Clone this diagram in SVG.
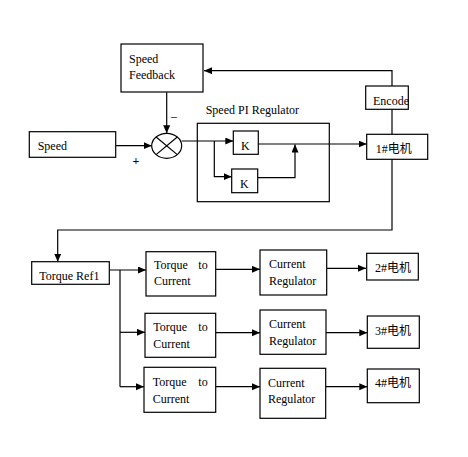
<svg xmlns="http://www.w3.org/2000/svg" width="468" height="457" viewBox="0 0 468 457">
<style>
.b{fill:#fff;stroke:#000;stroke-width:1.2}
.t{font-family:"Liberation Serif","DejaVu Serif",serif;font-size:12px;fill:#000}
.m{font-family:"Liberation Serif","Noto Sans CJK SC",serif;font-size:12px;fill:#000}
.c{fill:none;stroke:#000;stroke-width:1.2}
</style>
<defs>
<marker id="a" markerUnits="userSpaceOnUse" markerWidth="9" markerHeight="8" refX="8" refY="3.5" orient="auto">
<path d="M0,0 L8,3.5 L0,7 z" fill="#000"/>
</marker>
</defs>
<rect width="468" height="457" fill="#fff"/>
<g id="connectors" class="c">
<path d="M392,86 V70.7 H204" marker-end="url(#a)"/>
<path d="M392,109 V134.3"/>
<path d="M392,159.3 V230 H57.7 V261.7" marker-end="url(#a)"/>
<path d="M166.7,92.3 V133.3" marker-end="url(#a)"/>
<path d="M115.7,145.7 H151.7" marker-end="url(#a)"/>
<path d="M181.7,141 H233.3" marker-end="url(#a)"/>
<path d="M214.3,141 V176.7 H231.7" marker-end="url(#a)"/>
<path d="M258.3,144 H366.7" marker-end="url(#a)"/>
<path d="M257.7,177.7 H295 V144.5" marker-end="url(#a)"/>
<path d="M109.3,270 H146" marker-end="url(#a)"/>
<path d="M120,270 V386.7"/>
<path d="M120,332.3 H145" marker-end="url(#a)"/>
<path d="M120,386.7 H144" marker-end="url(#a)"/>
<path d="M215.7,269.3 H260" marker-end="url(#a)"/>
<path d="M215.7,332.7 H260" marker-end="url(#a)"/>
<path d="M215.7,386.7 H260" marker-end="url(#a)"/>
<path d="M326.7,268.3 H366" marker-end="url(#a)"/>
<path d="M326,332.7 H367.3" marker-end="url(#a)"/>
<path d="M325.7,386.7 H367.3" marker-end="url(#a)"/>
</g>
<g id="speed-feedback">
<rect class="b" x="121" y="44" width="82" height="48"/>
<text class="t" x="129" y="62.5">Speed</text>
<text class="t" x="129" y="79">Feedback</text>
</g>
<g id="speed">
<rect class="b" x="29.3" y="131.7" width="86.4" height="25.6"/>
<text class="t" x="37.7" y="150">Speed</text>
</g>
<g id="sum">
<ellipse class="b" cx="166.7" cy="145.8" rx="15" ry="12.5"/>
<path class="c" d="M156.1,137 L177.3,154.6 M177.3,137 L156.1,154.6"/>
<text class="t" x="171" y="120">–</text>
<text class="t" x="132.5" y="165" font-size="11" font-weight="bold">+</text>
</g>
<g id="speed-pi-regulator">
<rect class="c" x="197.3" y="123.3" width="132" height="78.4"/>
<text class="t" x="205.7" y="114.3">Speed PI Regulator</text>
</g>
<g id="k1">
<rect class="b" x="233.3" y="131" width="25" height="23.3"/>
<text class="t" x="241" y="150">K</text>
</g>
<g id="k2">
<rect class="b" x="231.7" y="169" width="26" height="23.7"/>
<text class="t" x="240" y="188">K</text>
</g>
<g id="encode">
<rect class="b" x="365.7" y="86" width="42.6" height="23.3"/>
<text class="t" x="373" y="105" font-size="11.2">Encode</text>
</g>
<g id="motor1">
<rect class="b" x="366.7" y="134.3" width="61" height="25"/>
<text class="m" x="375.7" y="152.7">1#电机</text>
</g>
<g id="torque-ref1">
<rect class="b" x="31.7" y="261.7" width="77.6" height="22.6"/>
<text class="t" x="39.3" y="280">Torque Ref1</text>
</g>
<g id="ttc1">
<rect class="b" x="146" y="251.7" width="69.7" height="44.3"/>
<text class="t" x="154" y="269.3">Torque</text>
<text class="t" x="198.3" y="269.3">to</text>
<text class="t" x="154" y="285">Current</text>
</g>
<g id="ttc2">
<rect class="b" x="145" y="313.3" width="70.7" height="44"/>
<text class="t" x="153.3" y="330.7">Torque</text>
<text class="t" x="198.3" y="330.7">to</text>
<text class="t" x="153.3" y="348.3">Current</text>
</g>
<g id="ttc3">
<rect class="b" x="144" y="367.3" width="71.7" height="45"/>
<text class="t" x="152.7" y="385.7">Torque</text>
<text class="t" x="198.3" y="385.7">to</text>
<text class="t" x="152.7" y="403.3">Current</text>
</g>
<g id="cr1">
<rect class="b" x="260" y="250" width="66.7" height="45"/>
<text class="t" x="269" y="267.7">Current</text>
<text class="t" x="269" y="285">Regulator</text>
</g>
<g id="cr2">
<rect class="b" x="260" y="310" width="66" height="44.3"/>
<text class="t" x="269" y="328.3">Current</text>
<text class="t" x="269" y="345">Regulator</text>
</g>
<g id="cr3">
<rect class="b" x="260" y="368.3" width="65.7" height="50"/>
<text class="t" x="268" y="386.7">Current</text>
<text class="t" x="268" y="403.3">Regulator</text>
</g>
<g id="motor2">
<rect class="b" x="366.7" y="253.3" width="51.6" height="26.7"/>
<text class="m" x="375" y="271.7">2#电机</text>
</g>
<g id="motor3">
<rect class="b" x="367.3" y="316" width="52" height="32.3"/>
<text class="m" x="375" y="335">3#电机</text>
</g>
<g id="motor4">
<rect class="b" x="367.3" y="369" width="52" height="33.7"/>
<text class="m" x="375" y="386.7">4#电机</text>
</g>
</svg>
